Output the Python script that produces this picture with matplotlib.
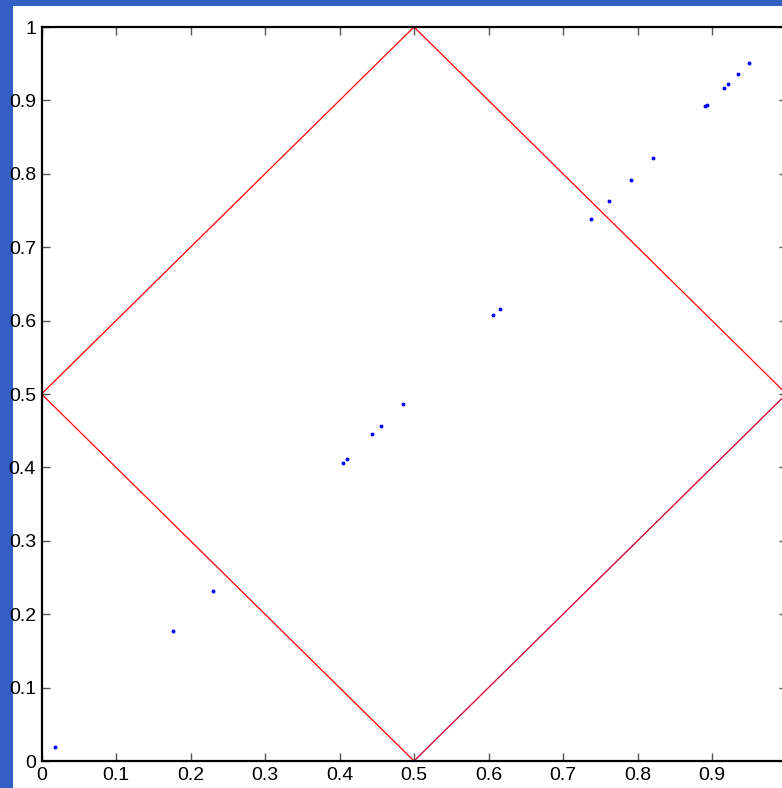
import matplotlib.pyplot as plt
from matplotlib.patches import Rectangle

plt.rcParams['font.family'] = ['Liberation Sans', 'DejaVu Sans']

# sample points (they sit on y = x)
px = [0.018, 0.177, 0.230, 0.405, 0.410, 0.444, 0.456, 0.485, 0.606, 0.615,
      0.737, 0.762, 0.791, 0.821, 0.891, 0.893, 0.916, 0.921, 0.935, 0.950]
py = [0.019, 0.177, 0.231, 0.406, 0.411, 0.445, 0.457, 0.486, 0.608, 0.616,
      0.739, 0.763, 0.792, 0.822, 0.892, 0.894, 0.917, 0.922, 0.936, 0.951]

# diamond boundary
dx = [0.0, 0.5, 1.0, 0.5, 0.0]
dy = [0.5, 1.0, 0.5, 0.0, 0.5]

# lower right edge line
lx = [0.5, 1.0]
ly = [0.0, 0.5]

ticks = [0, 0.1, 0.2, 0.3, 0.4, 0.5, 0.6, 0.7, 0.8, 0.9, 1]
ytick_labels = ['0', '0.1', '0.2', '0.3', '0.4', '0.5', '0.6', '0.7', '0.8', '0.9', '1']
# last x label falls outside the saved figure
xtick_labels = ['0', '0.1', '0.2', '0.3', '0.4', '0.5', '0.6', '0.7', '0.8', '0.9', '']

fig = plt.figure(figsize=(7.82, 7.88), dpi=100)
fig.patch.set_facecolor('white')

# blue frame strips
fig.patches.append(Rectangle((0, 0), 13 / 782, 1, transform=fig.transFigure,
                             facecolor='#335fc4', edgecolor='none', zorder=-1))
fig.patches.append(Rectangle((0, 1 - 6 / 788), 1, 6 / 788, transform=fig.transFigure,
                             facecolor='#335fc4', edgecolor='none', zorder=-1))

ax = fig.add_axes([41.5 / 782, 27 / 788, 745 / 782, 734 / 788])
ax.plot(dx, dy, color='#ff0000', linewidth=0.9, zorder=2)
ax.plot(lx, ly, color='#0000ff', linewidth=0.9, alpha=0.2, zorder=3)
ax.plot(px, py, 'o', color='#0000ff', markersize=2.8, markeredgewidth=0, zorder=4)

ax.set_xlim(0, 1)
ax.set_ylim(0, 1)
ax.set_xticks(ticks)
ax.set_xticklabels(xtick_labels)
ax.set_yticks(ticks)
ax.set_yticklabels(ytick_labels)
ax.tick_params(direction='in', length=6, width=1, color='#555555',
               top=True, right=True, labelsize=14, pad=4)
for s in ax.spines.values():
    s.set_linewidth(1.6)
    s.set_color('black')

fig.savefig('out.png', dpi=100)
